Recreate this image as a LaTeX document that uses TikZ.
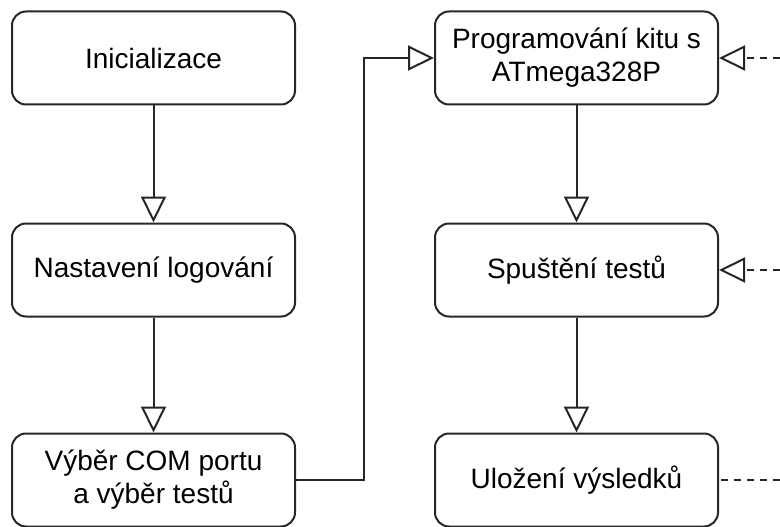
\documentclass[tikz,border=0pt]{standalone}
\usepackage{fontspec}
\setmainfont{Liberation Sans}
\usepackage{tikz}
\usetikzlibrary{positioning,arrows.meta}

\tikzset{
    krok/.style={shape=rectangle, rounded corners=14pt, draw=black!85, line width=2pt,
        minimum width=283pt, minimum height=93pt, align=center,
        font=\fontsize{28}{33}\selectfont},
    hrot/.style={-{Triangle[open,length=26pt,width=25pt]}},
    sipka/.style={draw=black!85, line width=2pt, hrot},
    carkovane/.style={draw=black!85, line width=2pt, dash pattern=on 7pt off 6pt}
}

\begin{document}
\begin{tikzpicture}[x=1pt,y=1pt]
                    \useasboundingbox (0,0) rectangle (780,-527);

                    \node[krok] (init) at (153.5,-58) {Inicializace};
                    \node[krok] (log) at (153.5,-270) {Nastavení logování};
                    \node[krok] (vyber) at (153.5,-480) {Výběr COM portu\\a výběr testů};
                    \node[krok] (prog) at (576.5,-58) {Programování kitu s\\ATmega328P};
                    \node[krok] (test) at (576.5,-270) {Spuštění testů};
                    \node[krok] (ulozeni) at (576.5,-480) {Uložení výsledků};

                    \coordinate (v1) at (780,-58);
                    \coordinate (v2) at (780,-270);
                    \coordinate (v3) at (780,-480);

                    \path [sipka] (init) edge (log);
                    \path [sipka] (log) edge (vyber);
                    \draw [sipka] (vyber.east) -- ++(68,0) |- (prog.west);
                    \path [sipka] (prog) edge (test);
                    \path [sipka] (test) edge (ulozeni);
                    \draw [carkovane, hrot] (v1) -- (prog.east);
                    \draw [carkovane, hrot] (v2) -- (test.east);
                    \draw [carkovane] (v3) -- (ulozeni.east);
                \end{tikzpicture}
\end{document}
